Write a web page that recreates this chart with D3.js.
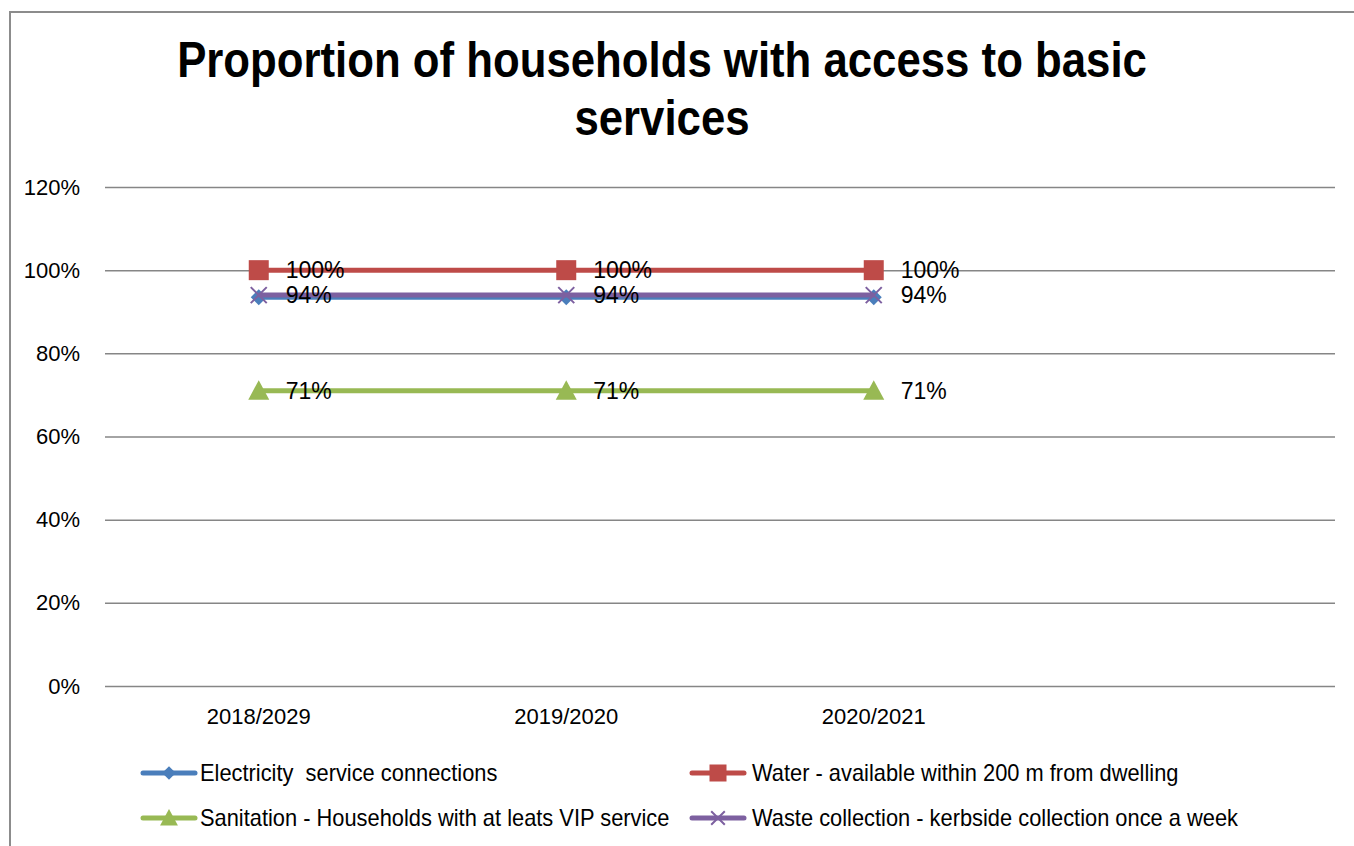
<!DOCTYPE html>
<html>
<head>
<meta charset="utf-8">
<script src="https://cdn.jsdelivr.net/npm/d3@7"></script>
<style>
  html, body { margin: 0; padding: 0; background: #fff; }
  svg { display: block; }
  text { font-family: "Liberation Sans", Arial, sans-serif; }
</style>
</head>
<body>
<svg id="chart" width="1354" height="846"></svg>
<script>
// Financial years on the category axis (the last slot is an empty category)
const categories = ["2018/2029", "2019/2020", "2020/2021", ""];

// Share of households per service, per year
const electricity = [0.935, 0.935, 0.935, null];
const water       = [1.00, 1.00, 1.00, null];
const sanitation  = [0.71, 0.71, 0.71, null];
const waste       = [0.94, 0.94, 0.94, null];

const yTicks = [0, 0.2, 0.4, 0.6, 0.8, 1.0, 1.2];

const seriesNames = [
  "Electricity  service connections",
  "Water - available within 200 m from dwelling",
  "Sanitation - Households with at leats VIP service",
  "Waste collection - kerbside collection once a week"
];

const series = [
  { name: seriesNames[0], values: electricity, color: "#4A7EBB", symbol: "diamond", labels: false },
  { name: seriesNames[1], values: water,       color: "#BE4B48", symbol: "square",  labels: true },
  { name: seriesNames[2], values: sanitation,  color: "#98B954", symbol: "triangle", labels: true },
  { name: seriesNames[3], values: waste,       color: "#7D60A0", symbol: "cross",   labels: true }
];

const svg = d3.select("#chart");
const plot = { left: 105, right: 1335, top: 187, bottom: 686 };

// Outer chart frame
svg.append("path")
  .attr("d", "M10,846 L10,12 L1354,12")
  .attr("fill", "none")
  .attr("stroke", "#8c8c8c")
  .attr("stroke-width", 2);

// Title (condensed bold face)
const title = svg.append("g").attr("transform", "translate(662,0) scale(0.875,1)");
const titleText = title.append("text")
  .attr("text-anchor", "middle")
  .attr("font-weight", "bold")
  .attr("font-size", 50)
  .attr("fill", "#000");
titleText.append("tspan").attr("x", 0).attr("y", 77)
  .text("Proportion of households with access to basic");
titleText.append("tspan").attr("x", 0).attr("y", 135).text("services");

const x = d3.scaleBand().domain(categories).range([plot.left, plot.right]);
const y = d3.scaleLinear().domain([0, 1.2]).range([plot.bottom, plot.top]);
const cx = c => x(c) + x.bandwidth() / 2;

// Value axis with gridlines
const yAxis = svg.append("g")
  .attr("transform", `translate(${plot.left},0)`)
  .call(d3.axisLeft(y).tickValues(yTicks).tickFormat(d3.format(".0%"))
    .tickSize(-(plot.right - plot.left)).tickPadding(25));
yAxis.select(".domain").remove();
yAxis.selectAll(".tick line").attr("stroke", "#868686").attr("stroke-width", 1.5);
yAxis.selectAll(".tick text")
  .attr("font-size", 22)
  .attr("fill", "#000")
  .attr("font-family", "Liberation Sans, Arial, sans-serif");

// Category axis labels
const xAxis = svg.append("g")
  .attr("transform", `translate(0,${plot.bottom})`)
  .call(d3.axisBottom(x).tickSize(0).tickPadding(22));
xAxis.select(".domain").remove();
xAxis.selectAll(".tick text")
  .attr("font-size", 22)
  .attr("fill", "#000")
  .attr("font-family", "Liberation Sans, Arial, sans-serif");

// Marker shapes
function marker(sel, symbol, color, s) {
  if (symbol === "diamond") {
    sel.append("path").attr("d", `M0,${-s} L${s},0 L0,${s} L${-s},0 Z`).attr("fill", color);
  } else if (symbol === "square") {
    sel.append("rect").attr("x", -s).attr("y", -s).attr("width", 2 * s).attr("height", 2 * s).attr("fill", color);
  } else if (symbol === "triangle") {
    sel.append("path").attr("d", `M0,${-s} L${s},${s * 0.85} L${-s},${s * 0.85} Z`).attr("fill", color);
  } else if (symbol === "cross") {
    sel.append("path").attr("d", `M${-s},${-s} L${s},${s} M${s},${-s} L${-s},${s}`)
      .attr("stroke", color).attr("stroke-width", 2).attr("fill", "none");
  }
}
const markerSize = { diamond: 8, square: 10, triangle: 10.5, cross: 8 };

const line = d3.line()
  .defined(d => d.v != null)
  .x(d => cx(d.c))
  .y(d => y(d.v));

series.forEach(s => {
  const pts = categories.map((c, i) => ({ c, v: s.values[i] })).filter(d => d.v != null);
  svg.append("path")
    .datum(pts)
    .attr("d", line)
    .attr("fill", "none")
    .attr("stroke", s.color)
    .attr("stroke-width", 5);
  pts.forEach(p => {
    const g = svg.append("g").attr("transform", `translate(${cx(p.c)},${y(p.v)})`);
    marker(g, s.symbol, s.color, markerSize[s.symbol]);
  });
});

// Data labels
series.filter(s => s.labels).forEach(s => {
  categories.forEach((c, i) => {
    const v = s.values[i];
    if (v == null) return;
    svg.append("text")
      .attr("x", cx(c) + 27)
      .attr("y", y(v))
      .attr("dy", "0.36em")
      .attr("font-size", 23)
      .attr("font-family", "Carlito, Lato, 'Liberation Sans', sans-serif")
      .attr("fill", "#000")
      .text(d3.format(".0%")(v));
  });
});

// Legend
const legendPos = [
  { x: 143, y: 773, tx: 200 }, { x: 692, y: 773, tx: 752 },
  { x: 143, y: 818, tx: 200 }, { x: 692, y: 818, tx: 752 }
];
series.forEach((s, i) => {
  const p = legendPos[i];
  const g = svg.append("g").attr("transform", `translate(${p.x},${p.y})`);
  g.append("line").attr("x1", 0).attr("x2", 52).attr("y1", 0).attr("y2", 0)
    .attr("stroke", s.color).attr("stroke-width", 5).attr("stroke-linecap", "round");
  const m = g.append("g").attr("transform", "translate(26,0)");
  marker(m, s.symbol, s.color, markerSize[s.symbol] * 0.85);
  svg.append("text")
    .attr("transform", `translate(${p.tx},${p.y}) scale(0.95,1)`)
    .attr("dy", "0.36em")
    .attr("font-size", 23)
    .attr("fill", "#000")
    .style("white-space", "pre")
    .text(s.name);
});
</script>
</body>
</html>
